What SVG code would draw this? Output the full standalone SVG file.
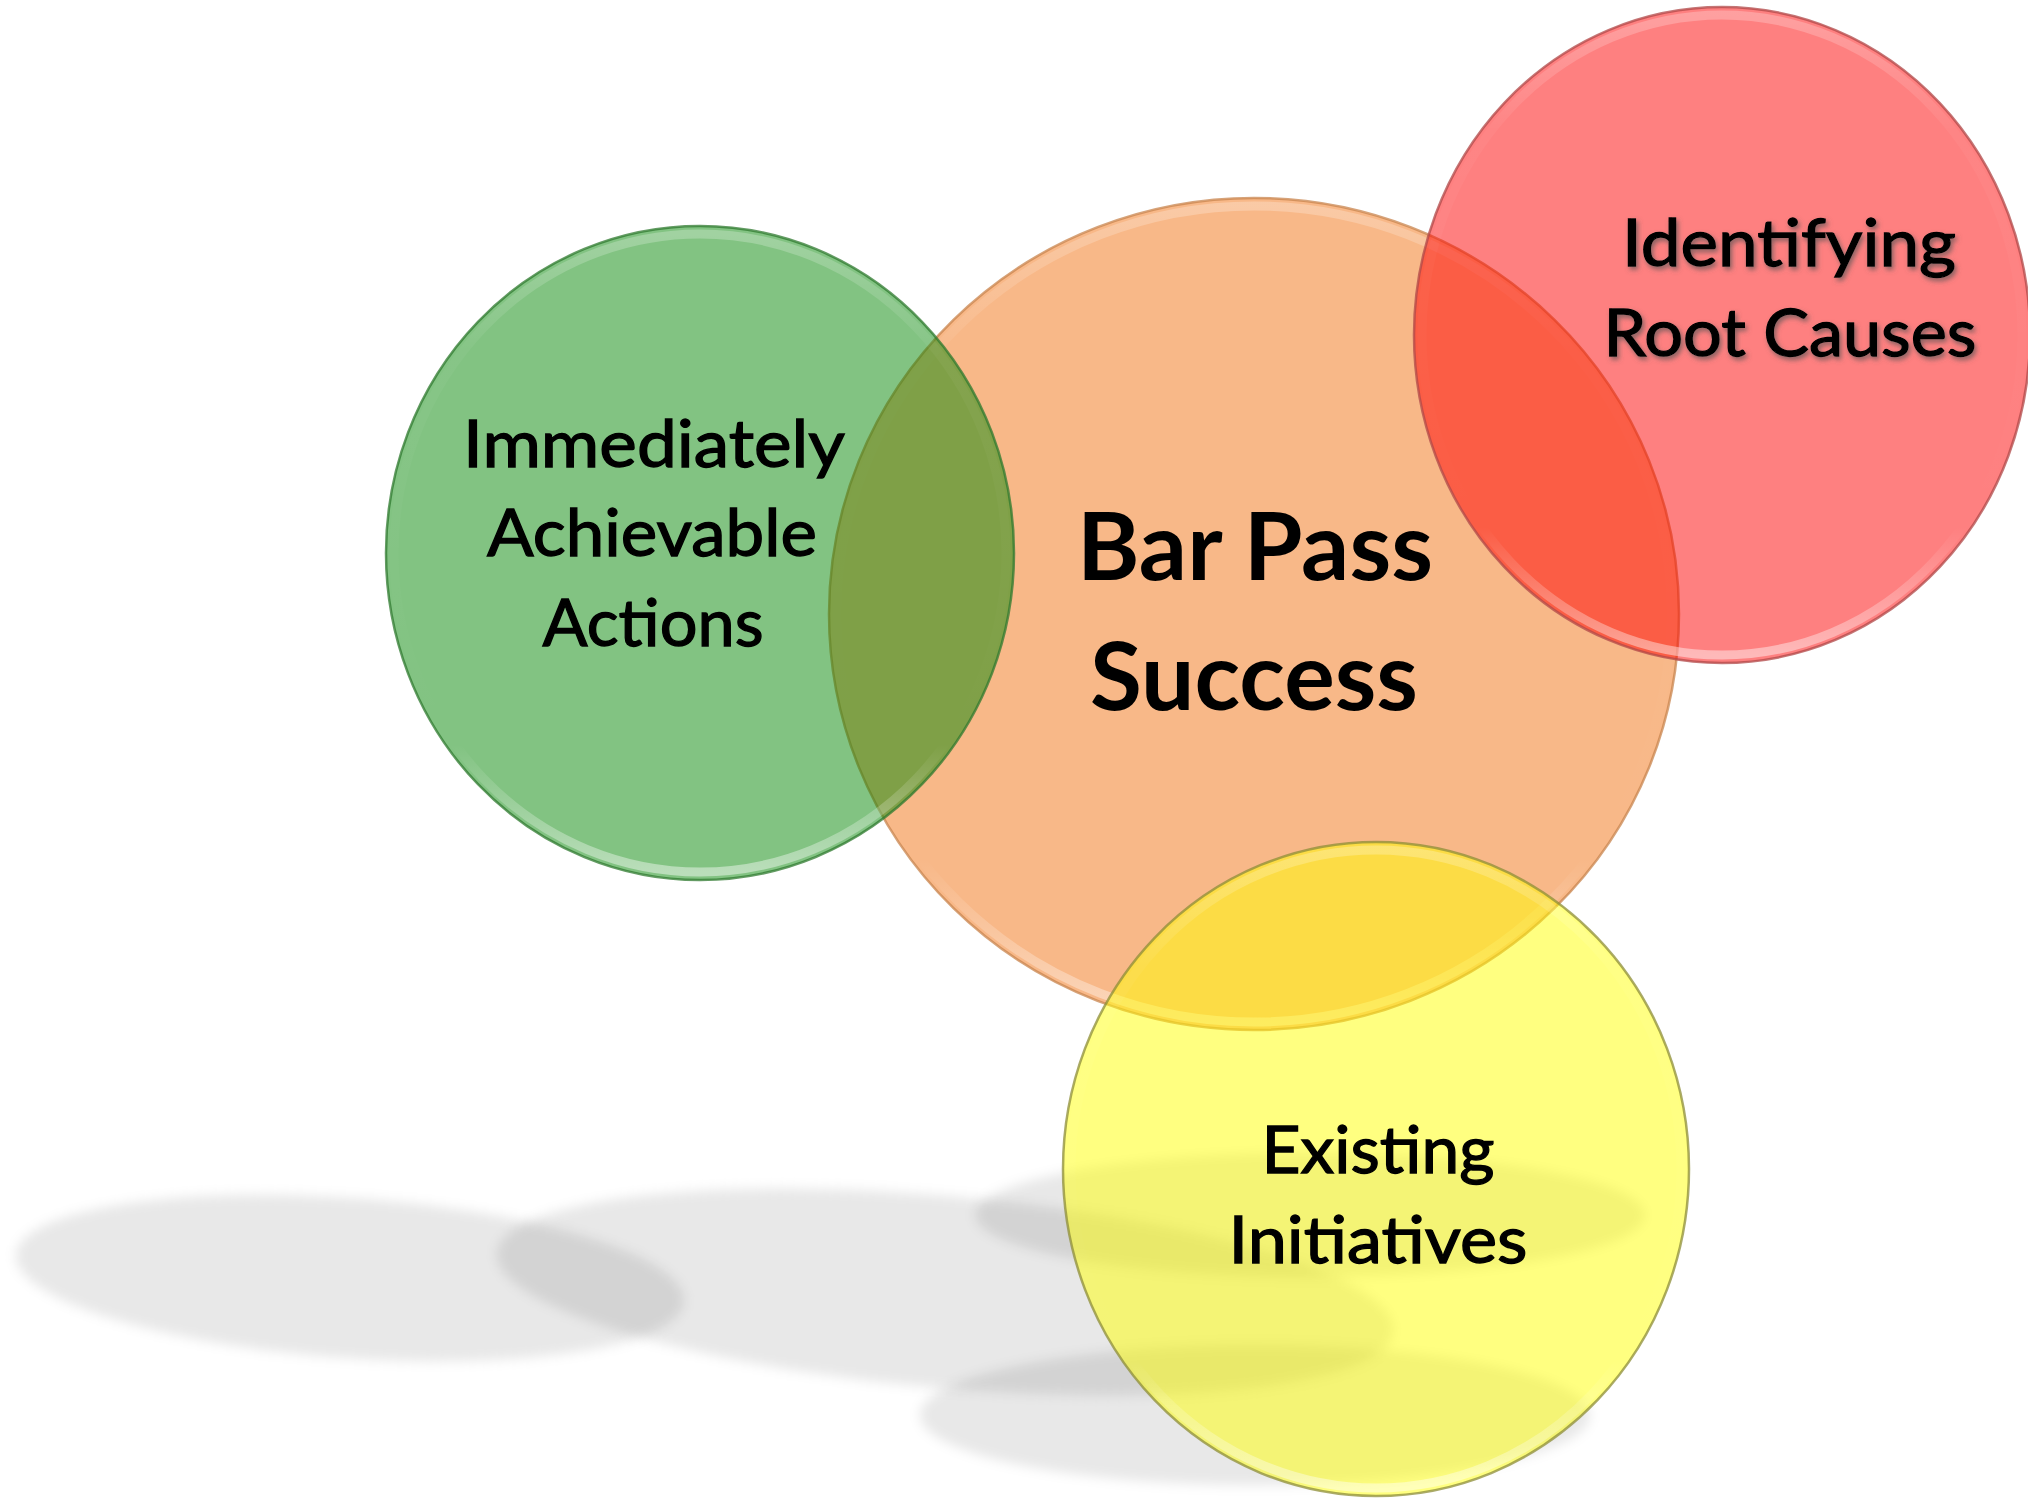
<svg xmlns="http://www.w3.org/2000/svg" width="2028" height="1498" viewBox="0 0 2028 1498">
  <defs>
    <style>
      .fill { fill-opacity: 0.5; }
      .rim { fill: none; stroke: url(#rimGrad); stroke-width: 9; }
      .edge { fill: none; stroke-width: 2.5; stroke-opacity: 0.75; }
      .lbl { font-family: Lato, "Liberation Sans", sans-serif; font-size: 66px; fill: #000; text-anchor: middle; stroke: #000; stroke-width: 1.3; }
      .big { font-family: Lato, "Liberation Sans", sans-serif; font-size: 93px; font-weight: bold; fill: #000; text-anchor: middle; }
      .refl { fill: #000; fill-opacity: 0.09; filter: url(#blur); }
    </style>
    <linearGradient id="rimGrad" x1="0" y1="0" x2="0" y2="1">
      <stop offset="0" stop-color="#fff" stop-opacity="0.25"/>
      <stop offset="0.18" stop-color="#fff" stop-opacity="0.04"/>
      <stop offset="0.8" stop-color="#fff" stop-opacity="0"/>
      <stop offset="1" stop-color="#fff" stop-opacity="0.45"/>
    </linearGradient>
    <filter id="blur" x="-10%" y="-50%" width="120%" height="200%">
      <feGaussianBlur stdDeviation="6"/>
    </filter>
    <filter id="tshadow" x="-10%" y="-30%" width="120%" height="160%">
      <feDropShadow dx="2" dy="3" stdDeviation="2.5" flood-color="#555" flood-opacity="0.7"/>
    </filter>
  </defs>

  <rect width="2028" height="1498" fill="#fff"/>

  <g id="reflection">
    <ellipse class="refl" cx="350" cy="1278" rx="335" ry="80" transform="rotate(4 350 1278)"/>
    <ellipse class="refl" cx="945" cy="1292" rx="450" ry="96" transform="rotate(5 945 1292)"/>
    <ellipse class="refl" cx="1310" cy="1215" rx="335" ry="62"/>
    <ellipse class="refl" cx="1255" cy="1415" rx="335" ry="70"/>
  </g>

  <g id="connectors"></g>

  <g id="node-bar-pass-success">
    <ellipse class="fill" cx="1254" cy="614" rx="425" ry="416" fill="#F17111"/>
    <ellipse class="rim" cx="1254" cy="614" rx="417" ry="408"/>
    <ellipse class="edge" cx="1254" cy="614" rx="425" ry="416" stroke="#C8844E"/>
    <text class="big" x="1255" y="580" textLength="356" lengthAdjust="spacingAndGlyphs">Bar Pass</text>
    <text class="big" x="1254" y="710" textLength="328" lengthAdjust="spacingAndGlyphs">Success</text>
  </g>

  <g id="node-immediately-achievable-actions">
    <ellipse class="fill" cx="700" cy="553" rx="314" ry="327" fill="#058705"/>
    <ellipse class="rim" cx="700" cy="553" rx="306" ry="319"/>
    <ellipse class="edge" cx="700" cy="553" rx="314" ry="327" stroke="#2F7A2F"/>
    <text class="lbl" x="654" y="467" textLength="382" lengthAdjust="spacingAndGlyphs">Immediately</text>
    <text class="lbl" x="652" y="556" textLength="330" lengthAdjust="spacingAndGlyphs">Achievable</text>
    <text class="lbl" x="653" y="646" textLength="221" lengthAdjust="spacingAndGlyphs">Actions</text>
  </g>

  <g id="node-identifying-root-causes">
    <ellipse class="fill" cx="1722" cy="335" rx="308" ry="328" fill="#FD0101"/>
    <ellipse class="rim" cx="1722" cy="335" rx="300" ry="320"/>
    <ellipse class="edge" cx="1722" cy="335" rx="308" ry="328" stroke="#B04848"/>
    <g filter="url(#tshadow)">
      <text class="lbl" x="1789" y="266" textLength="334" lengthAdjust="spacingAndGlyphs">Identifying</text>
      <text class="lbl" x="1790" y="356" textLength="373" lengthAdjust="spacingAndGlyphs">Root Causes</text>
    </g>
  </g>

  <g id="node-existing-initiatives">
    <ellipse class="fill" cx="1376" cy="1169" rx="313" ry="327" fill="#FFFF01"/>
    <ellipse class="rim" cx="1376" cy="1169" rx="305" ry="319"/>
    <ellipse class="edge" cx="1376" cy="1169" rx="313" ry="327" stroke="#8E8E38"/>
    <text class="lbl" x="1378" y="1173" textLength="233" lengthAdjust="spacingAndGlyphs">Existing</text>
    <text class="lbl" x="1378" y="1263" textLength="299" lengthAdjust="spacingAndGlyphs">Initiatives</text>
  </g>
</svg>
